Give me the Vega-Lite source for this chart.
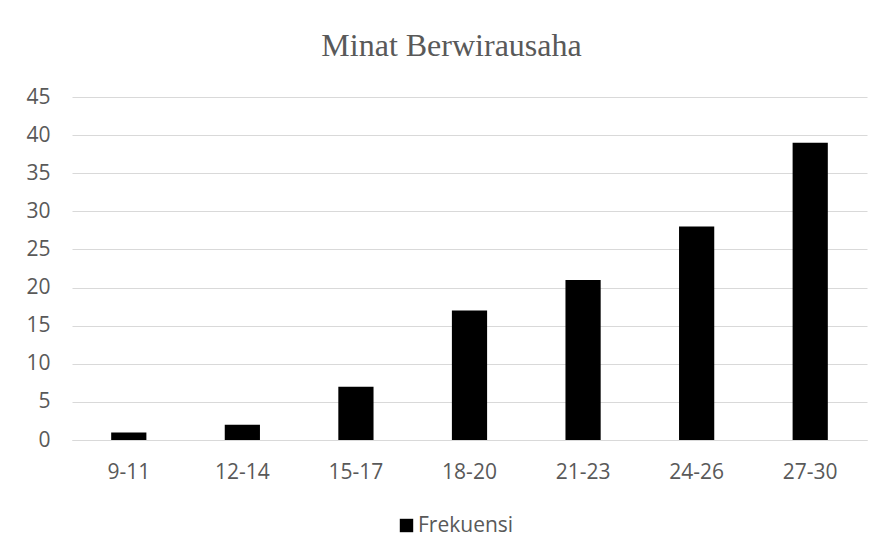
{
  "$schema": "https://vega.github.io/schema/vega-lite/v6.json",
  "width": 795,
  "height": 343,
  "autosize": {"type": "none"},
  "padding": {"left": 72, "top": 97, "right": 15, "bottom": 120},
  "background": "#ffffff",
  "title": {
    "text": "Minat Berwirausaha",
    "font": "Liberation Serif",
    "fontSize": 32,
    "fontWeight": "normal",
    "color": "#595959",
    "anchor": "middle",
    "baseline": "alphabetic",
    "offset": -2,
    "dx": -18
  },
  "data": {
    "values": [
      {"range": "9-11", "value": 1, "series": "Frekuensi"},
      {"range": "12-14", "value": 2, "series": "Frekuensi"},
      {"range": "15-17", "value": 7, "series": "Frekuensi"},
      {"range": "18-20", "value": 17, "series": "Frekuensi"},
      {"range": "21-23", "value": 21, "series": "Frekuensi"},
      {"range": "24-26", "value": 28, "series": "Frekuensi"},
      {"range": "27-30", "value": 39, "series": "Frekuensi"}
    ]
  },
  "mark": {"type": "bar"},
  "encoding": {
    "x": {
      "field": "range",
      "type": "nominal",
      "sort": null,
      "scale": {"paddingInner": 0.69, "paddingOuter": 0.345},
      "axis": {
        "title": null,
        "labelAngle": 0,
        "labelFont": "Open Sans",
        "labelFontSize": 21,
        "labelColor": "#595959",
        "labelPadding": 21,
        "ticks": false,
        "domain": true,
        "domainColor": "#d9d9d9",
        "grid": false
      }
    },
    "y": {
      "field": "value",
      "type": "quantitative",
      "scale": {"domain": [0, 45], "nice": false},
      "axis": {
        "title": null,
        "values": [0, 5, 10, 15, 20, 25, 30, 35, 40, 45],
        "labelFont": "Open Sans",
        "labelFontSize": 21,
        "labelColor": "#595959",
        "labelPadding": 22,
        "ticks": false,
        "domain": false,
        "grid": true,
        "gridColor": "#d9d9d9",
        "gridWidth": 1
      }
    },
    "color": {
      "field": "series",
      "type": "nominal",
      "scale": {"range": ["#000000"]},
      "legend": {
        "title": null,
        "orient": "none",
        "legendX": 324,
        "legendY": 418,
        "direction": "horizontal",
        "symbolType": "square",
        "symbolSize": 180,
        "symbolStrokeWidth": 0,
        "labelFont": "Open Sans",
        "labelFontSize": 21,
        "labelColor": "#595959",
        "labelOffset": 1
      }
    }
  },
  "config": {
    "view": {"stroke": null}
  }
}
